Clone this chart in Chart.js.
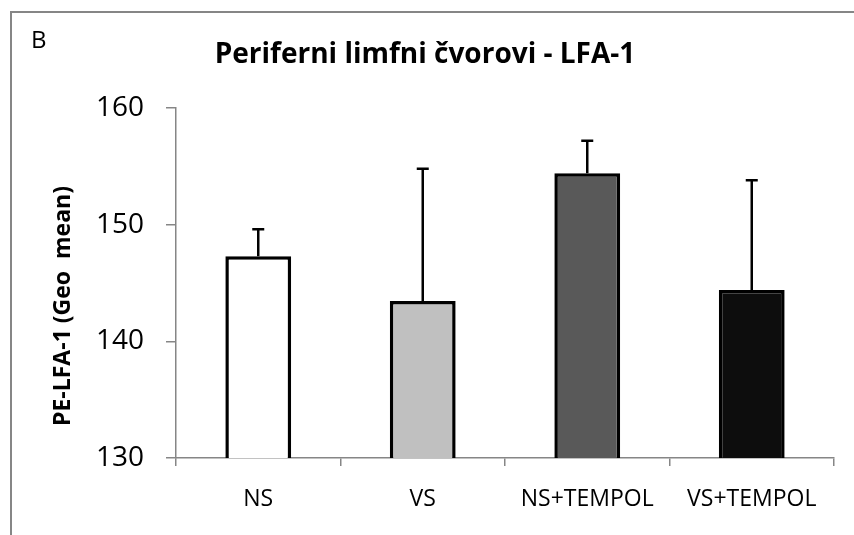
<!DOCTYPE html>
<html>
<head>
<meta charset="utf-8">
<script src="https://cdn.jsdelivr.net/npm/chart.js@4"></script>
<style>
  html, body { margin: 0; padding: 0; background: #fff; }
  #wrap { width: 854px; height: 535px; }
</style>
</head>
<body>
<div id="wrap"><canvas id="myChart" width="854" height="535"></canvas></div>
<script>
// groups, means and SD (upper error bar only)
const groups = ['NS', 'VS', 'NS+TEMPOL', 'VS+TEMPOL'];
const means = [147.3, 143.45, 154.4, 144.4];
const sds = [2.3, 11.35, 2.8, 9.4];
const barColors = ['#ffffff', '#c0c0c0', '#595959', '#0d0d0d'];
const yTicks = [130, 140, 150, 160];

const FONT = 'Open Sans';

// frame, panel letter, heading and rotated y title
const decor = {
    id: 'decor',
    beforeDraw(chart) {
        const c = chart.ctx;
        c.save();
        c.fillStyle = '#fff';
        c.fillRect(0, 0, chart.width, chart.height);
        c.strokeStyle = '#868686';
        c.lineWidth = 2;
        c.strokeRect(11, 12, 900, 600);
        c.restore();
    },
    afterDraw(chart) {
        const c = chart.ctx;
        c.save();
        c.fillStyle = '#000';
        c.font = '24px "' + FONT + '"';
        c.textAlign = 'left';
        c.textBaseline = 'alphabetic';
        c.fillText('B', 31, 48);

        c.font = 'bold 28px "' + FONT + '"';
        c.textAlign = 'center';
        c.fillText('Periferni limfni čvorovi - LFA-1', 425, 63);

        c.translate(63, 306);
        c.rotate(-Math.PI / 2);
        c.font = 'bold 23px "' + FONT + '"';
        c.textBaseline = 'middle';
        c.fillText('PE-LFA-1 (Geo  mean)', 0, 0);
        c.restore();
    }
};

// upward error bars with a cap
const errorBars = {
    id: 'errorBars',
    afterDatasetsDraw(chart) {
        const c = chart.ctx;
        const y = chart.scales.y;
        const meta = chart.getDatasetMeta(0);
        c.save();
        c.strokeStyle = '#000';
        c.lineWidth = 2.5;
        meta.data.forEach(function (bar, i) {
            const top = y.getPixelForValue(means[i] + sds[i]);
            c.beginPath();
            c.moveTo(bar.x, bar.y);
            c.lineTo(bar.x, top);
            c.moveTo(bar.x - 6, top);
            c.lineTo(bar.x + 6, top);
            c.stroke();
        });
        c.restore();
    }
};

new Chart(document.getElementById('myChart'), {
    type: 'bar',
    data: {
        labels: groups,
        datasets: [{
            data: means,
            backgroundColor: barColors,
            borderColor: '#000',
            borderWidth: 3.5,
            barPercentage: 0.4,
            categoryPercentage: 1
        }]
    },
    options: {
        responsive: false,
        animation: false,
        layout: { padding: { left: 0, right: 20, top: 108, bottom: 0 } },
        plugins: {
            legend: { display: false },
            tooltip: { enabled: false },
            title: { display: false }
        },
        scales: {
            x: {
                grid: { drawOnChartArea: false, offset: true, tickLength: 8, color: '#868686', lineWidth: 1.5 },
                border: { color: '#868686', width: 1.5 },
                ticks: { color: '#000', padding: 20, font: { family: FONT, size: 23 } },
                afterFit(scale) { scale.height = 77; }
            },
            y: {
                min: 130,
                max: 160,
                afterBuildTicks(scale) { scale.ticks = yTicks.map(v => ({ value: v })); },
                grid: { drawOnChartArea: false, tickLength: 10, color: '#868686', lineWidth: 1.5 },
                border: { color: '#868686', width: 1.5 },
                ticks: { color: '#000', padding: 22, font: { family: FONT, size: 28 } },
                afterFit(scale) { scale.width = 176; }
            }
        }
    },
    plugins: [decor, errorBars]
});
</script>
</body>
</html>
